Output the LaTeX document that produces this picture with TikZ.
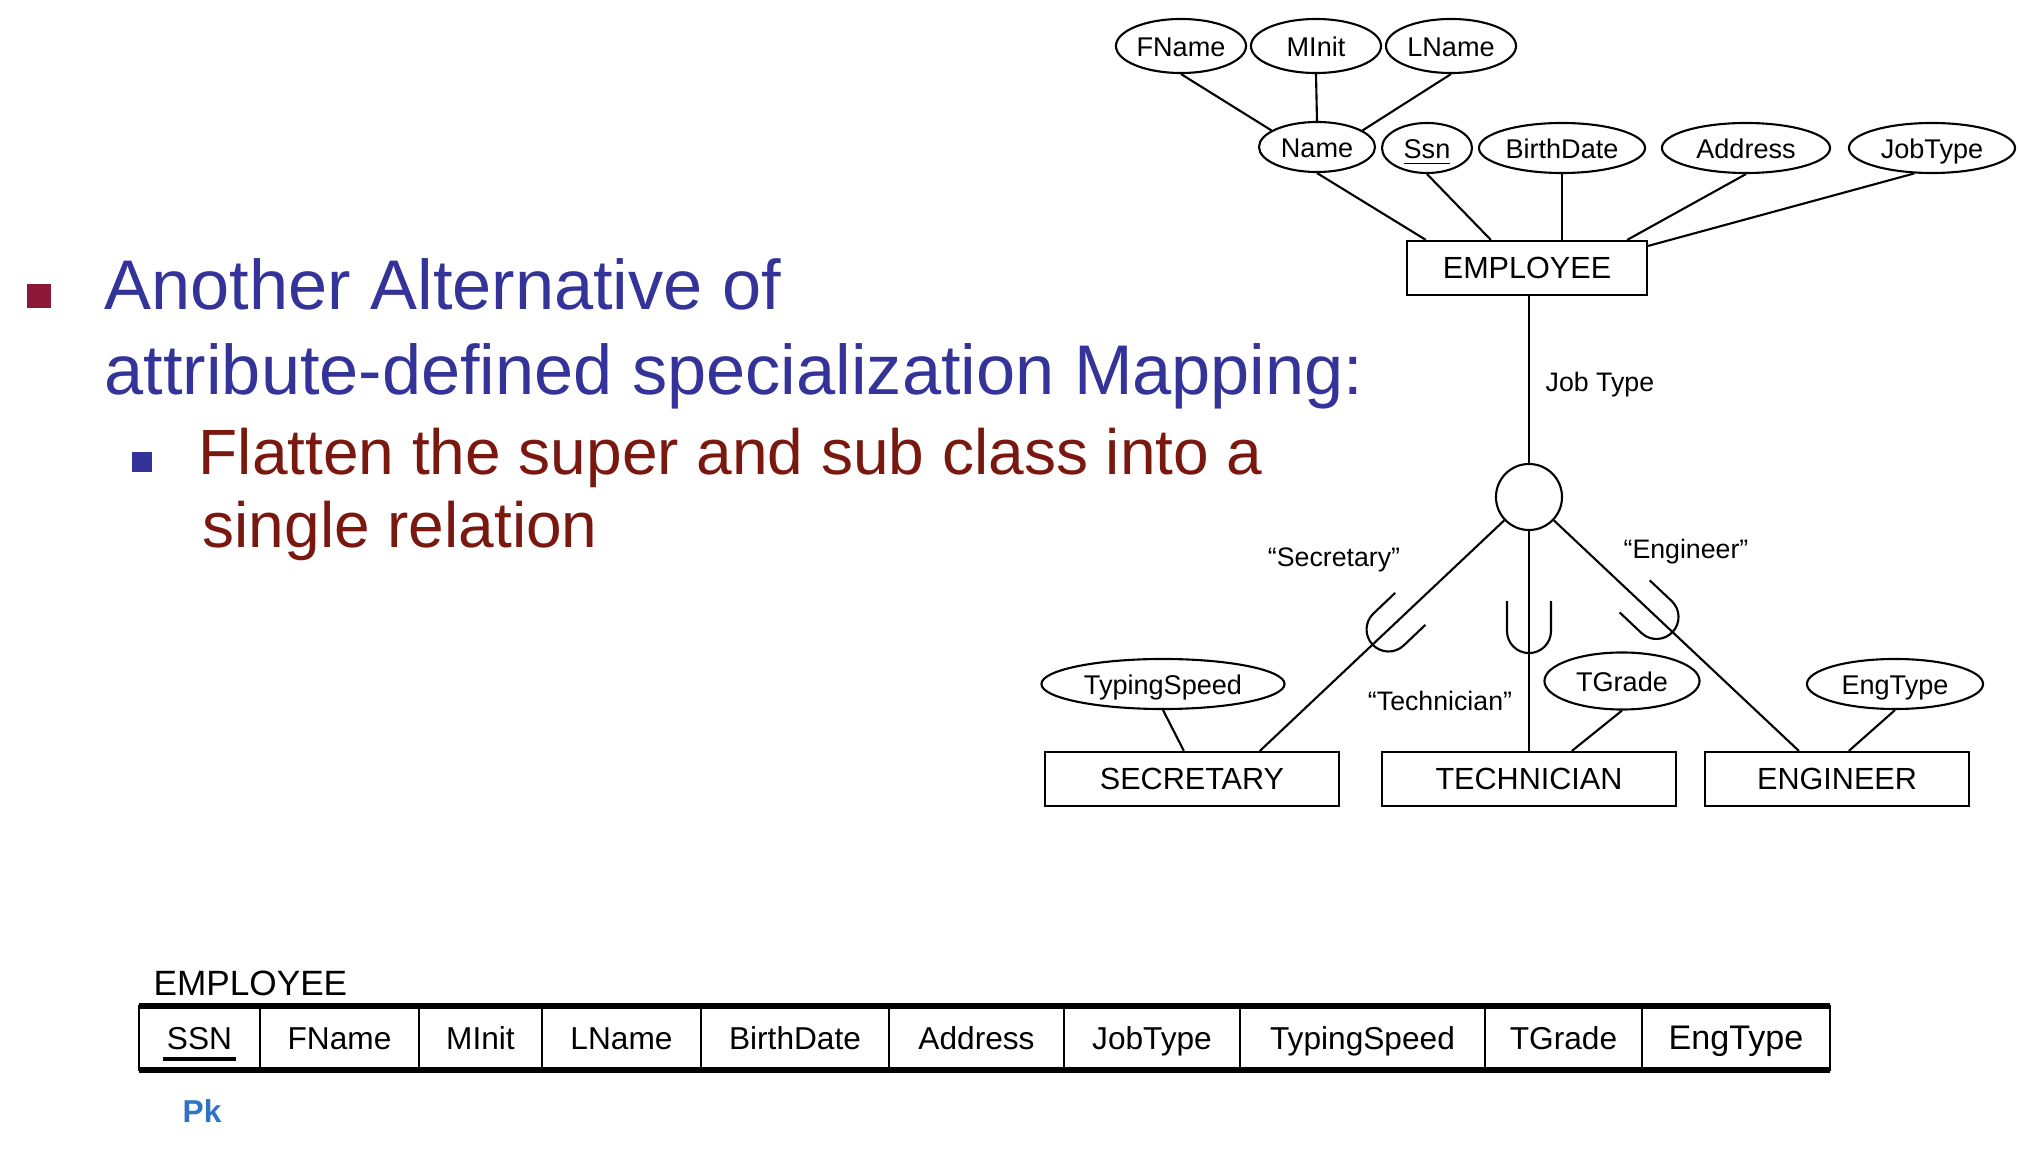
\documentclass[tikz,border=0pt]{standalone}
\usepackage{fontspec}
\setmainfont{Liberation Sans}
\usetikzlibrary{shapes.geometric,calc}
\definecolor{titleblue}{RGB}{51,51,153}
\definecolor{subred}{RGB}{122,24,16}
\definecolor{bulletred}{RGB}{140,25,55}
\definecolor{pkblue}{RGB}{46,116,196}
\tikzset{
 ln/.style={line width=0.6pt},
 attr/.style={ellipse, draw, line width=0.6pt, inner sep=0pt, text height=6.5pt, text depth=0.8pt, font=\fontsize{7.7}{9}\selectfont},
 ent/.style={rectangle, draw, line width=0.6pt, inner sep=0pt, minimum height=0.54cm, font=\fontsize{8.7}{10}\selectfont},
 lbl/.style={font=\fontsize{7.6}{9}\selectfont, inner sep=0pt},
 cell/.style={font=\fontsize{9}{11}\selectfont, inner sep=0pt, anchor=base},
 subsetU/.style={line width=0.6pt},
 title/.style={anchor=base west, inner sep=0pt, text=titleblue, font=\fontsize{20}{24}\selectfont},
 subtitle/.style={anchor=base west, inner sep=0pt, text=subred, font=\fontsize{18.2}{22}\selectfont},
}
\begin{document}
\begin{tikzpicture}[x=0.01cm, y=0.01cm]
\useasboundingbox (0,0) rectangle (2020,-1152);

% ---------- left text ----------
\node[fill=bulletred, minimum size=0.24cm, inner sep=0pt] (b1) at (39,-296) {};
\node[title] (t1) at (104,-310) {Another Alternative of};
\node[title] (t2) at (104,-395) {attribute-defined specialization Mapping:};
\node[fill=titleblue, minimum size=0.20cm, inner sep=0pt] (b2) at (142,-462) {};
\node[subtitle] (s1) at (198,-475) {Flatten the super and sub class into a};
\node[subtitle] (s2) at (202,-548) {single relation};

% ---------- ER diagram ----------
\node[attr, minimum width=1.30cm, minimum height=0.54cm] (fname) at (1181,-46) {FName};
\node[attr, minimum width=1.30cm, minimum height=0.54cm] (minit) at (1316,-46) {MInit};
\node[attr, minimum width=1.30cm, minimum height=0.54cm] (lname) at (1451,-46) {LName};
\node[attr, minimum width=1.16cm, minimum height=0.50cm] (name) at (1317,-147) {Name};
\node[attr, minimum width=0.90cm, minimum height=0.50cm] (ssn) at (1427,-148) {\underline{Ssn}};
\node[attr, minimum width=1.66cm, minimum height=0.50cm] (birth) at (1562,-148) {BirthDate};
\node[attr, minimum width=1.68cm, minimum height=0.50cm] (addr) at (1746,-148) {Address};
\node[attr, minimum width=1.66cm, minimum height=0.50cm] (jobt) at (1932,-148) {JobType};

\node[ent, minimum width=2.40cm] (emp) at (1527,-268) {EMPLOYEE};
\node[lbl, anchor=west] (jtl) at (1545,-385) {Job Type};
\node[circle, draw, ln, minimum size=0.66cm, inner sep=0pt] (circ) at (1529,-497) {};

\node[ent, minimum width=2.94cm] (sec) at (1192,-779) {SECRETARY};
\node[ent, minimum width=2.94cm] (tech) at (1529,-779) {TECHNICIAN};
\node[ent, minimum width=2.64cm] (eng) at (1837,-779) {ENGINEER};

\node[attr, minimum width=2.43cm, minimum height=0.50cm] (typ) at (1163,-684) {TypingSpeed};
\node[attr, minimum width=1.55cm, minimum height=0.57cm] (tg) at (1622,-681) {TGrade};
\node[attr, minimum width=1.76cm, minimum height=0.50cm] (et) at (1895,-684) {EngType};

\node[lbl] (lsec) at (1334,-560) {“Secretary”};
\node[lbl] (leng) at (1686,-552) {“Engineer”};
\node[lbl] (ltech) at (1440,-701) {“Technician”};

% connectors (top)
\draw[ln] (fname.south) -- (name.160);
\draw[ln] (minit.south) -- (name.north);
\draw[ln] (lname.south) -- (name.20);
\draw[ln] (name.south) -- ($(emp.north west)+(20,0)$);
\draw[ln] (ssn.south) -- ($(emp.north west)+(85,0)$);
\draw[ln] (birth.south) -- (birth.south |- emp.north);
\draw[ln] (addr.south) -- ($(emp.north east)+(-21,0)$);
\draw[ln] (jobt.235) -- ($(emp.north east)+(0,-6)$);
\draw[ln] (circ.north |- emp.south) -- (circ.north);

% connectors (bottom)
\coordinate (secend) at ($(sec.north west)+(216,0)$);
\coordinate (engend) at ($(eng.north west)+(95,0)$);
\draw[ln] (circ) -- (secend);
\draw[ln] (circ) -- (engend);
\draw[ln] (circ.south) -- (circ.south |- tech.north);
\draw[ln] (typ.south) -- ($(sec.north west)+(140,0)$);
\draw[ln] (tg.south) -- ($(tech.north west)+(191,0)$);
\draw[ln] (et.south) -- ($(eng.north west)+(145,0)$);

% subset symbols
\draw[subsetU, shift={($(circ.center)!1.34cm!(tech.north)$)}]
  (-22,30) -- (-22,0) arc[start angle=180, end angle=360, radius=22] -- (22,30);
\draw[subsetU, shift={($(circ.center)!1.93cm!(secend)$)}, rotate=-46.5]
  (-22,30) -- (-22,0) arc[start angle=180, end angle=360, radius=22] -- (22,30);
\draw[subsetU, shift={($(circ.center)!1.75cm!(engend)$)}, rotate=46.7]
  (-22,30) -- (-22,0) arc[start angle=180, end angle=360, radius=22] -- (22,30);

% ---------- relation table ----------
\node[font=\fontsize{10}{12}\selectfont, anchor=base west, inner sep=0pt] (tlabel) at (153,-995) {EMPLOYEE};
\coordinate (ttl) at (139,-1006);
\coordinate (tbr) at (1830,-1070);
\draw[line width=0.8pt] (ttl) rectangle (tbr);
\draw[line width=1.5pt] (ttl) -- (ttl -| tbr);
\draw[line width=1.5pt] (tbr) -- (tbr -| ttl);
\foreach \xx in {260,419,542,701,889,1064,1240,1485,1642}
  \draw[line width=0.6pt] (\xx,-1006) -- (\xx,-1070);
\node[cell] (cssn) at (199.5,-1050) {SSN};
\draw[line width=1pt] ($(cssn.base west)+(-3,-9)$) -- ($(cssn.base east)+(3,-9)$);
\foreach \l/\r/\t in {260/419/FName, 419/542/MInit, 542/701/LName, 701/889/BirthDate,
   889/1064/Address, 1064/1240/JobType, 1240/1485/TypingSpeed, 1485/1642/TGrade}
  \node[cell] (cell-\l) at ({(\l+\r)/2},-1050) {\t};
\node[cell, font=\fontsize{9.7}{11}\selectfont] (cell-1642) at (1736,-1050) {EngType};
\node[font=\bfseries\fontsize{9}{11}\selectfont, text=pkblue, inner sep=0pt] (pk) at (202,-1111) {Pk};
\end{tikzpicture}
\end{document}
